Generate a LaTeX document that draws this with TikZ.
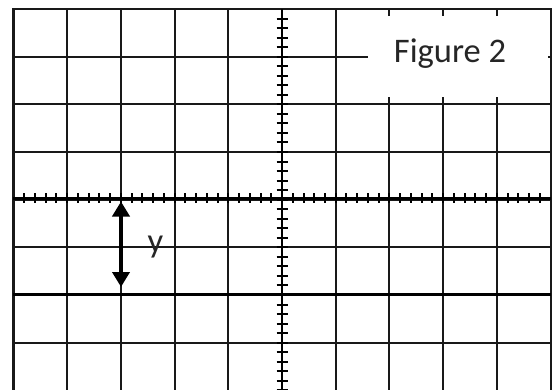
\documentclass[tikz,border=0pt]{standalone}
\usepackage{fontspec}
\setmainfont{Carlito}
\usetikzlibrary{arrows.meta}
\begin{document}
\begin{tikzpicture}[x=1pt,y=-1pt,
  gridline/.style={line width=2pt,black!90},
  border/.style={line width=2.4pt,black!90},
  axisline/.style={line width=2.8pt,black},
  tickmark/.style={line width=2pt,black},
  traceline/.style={line width=3.6pt,black},
  lbl/.style={inner sep=0pt,anchor=base,text=black!85,font=\fontsize{34.5}{40}\selectfont},
  dimarrow/.style={line width=3.8pt,{Triangle[length=15pt,width=17pt]}-{Triangle[length=15pt,width=17pt]}}]
\useasboundingbox (0,0) rectangle (553,389);
\fill[white] (0,0) rectangle (553,389);
% grid
\foreach \i in {1,...,9} \draw[gridline] ({13.3+\i*53.74},9) -- ({13.3+\i*53.74},391);
\foreach \j in {1,...,7} \draw[gridline] (13.3,{9+\j*47.67}) -- (550.7,{9+\j*47.67});
\draw[border] (13.3,391) -- (13.3,9) -- (550.7,9) -- (550.7,391);
% trace
\draw[traceline] (13.3,294.3) -- (550.7,294.3);
% axes with minor ticks
\draw[axisline] (13.3,198.3) -- (550.7,198.3);
\draw[axisline] (282,9) -- (282,391);
\foreach \k in {1,...,49} \draw[tickmark] ({13.3+\k*10.748},193.3) -- ++(0,10);
\foreach \k in {1,...,40} \draw[tickmark] (276.5,{9+\k*9.534}) -- ++(11,0);
% label box
\fill[white] (368,16) rectangle (548,97);
\node[lbl] (fig) at (450,62.7) {Figure 2};
% y arrow
\coordinate (ytop) at (121,201.5);
\coordinate (ybot) at (121,287);
\draw[dimarrow] (ytop) -- (ybot);
\node[lbl] (ylab) at (155.5,252) {y};
\end{tikzpicture}
\end{document}
